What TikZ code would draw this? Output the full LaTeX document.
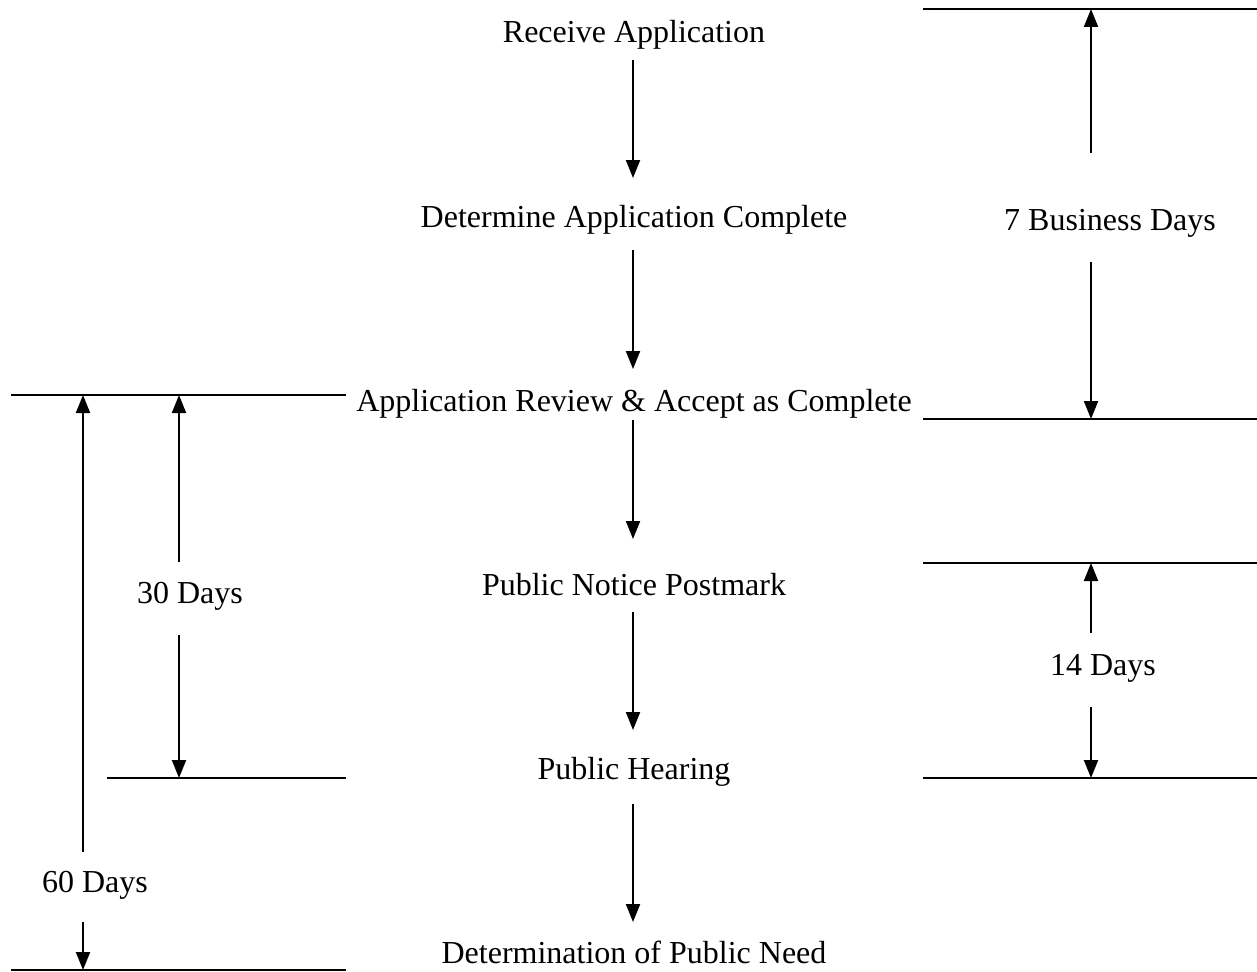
\documentclass[tikz,border=0pt]{standalone}
\usepackage{fontspec}
\setmainfont{Liberation Serif}
\usetikzlibrary{arrows.meta}
\begin{document}
\begin{tikzpicture}[x=1pt,y=-1pt,
  lbl/.style={font=\fontsize{32}{38}\selectfont, inner sep=0pt, anchor=base},
  rule/.style={line width=2pt},
  arr/.style={line width=2pt, -{Triangle[width=14pt,length=18pt]}}]
\useasboundingbox (0,0) rectangle (1257,971);
% center labels
\node[lbl] (n1) at (634,43) {Receive Application};
\node[lbl] (n2) at (634,227) {Determine Application Complete};
\node[lbl] (n3) at (634,411) {Application Review \& Accept as Complete};
\node[lbl] (n4) at (634,595) {Public Notice Postmark};
\node[lbl] (n5) at (634,779) {Public Hearing};
\node[lbl] (n6) at (634,963) {Determination of Public Need};
% center arrows
\coordinate (a1s) at (633,60);  \coordinate (a1e) at (633,178);
\coordinate (a2s) at (633,250); \coordinate (a2e) at (633,369);
\coordinate (a3s) at (633,420); \coordinate (a3e) at (633,539);
\coordinate (a4s) at (633,612); \coordinate (a4e) at (633,730);
\coordinate (a5s) at (633,804); \coordinate (a5e) at (633,922);
\draw[arr] (a1s) -- (a1e);
\draw[arr] (a2s) -- (a2e);
\draw[arr] (a3s) -- (a3e);
\draw[arr] (a4s) -- (a4e);
\draw[arr] (a5s) -- (a5e);
% right: 7 business days
\coordinate (r1a) at (923,9);   \coordinate (r1b) at (1257,9);
\coordinate (r2a) at (923,419); \coordinate (r2b) at (1257,419);
\draw[rule] (r1a) -- (r1b);
\draw[rule] (r2a) -- (r2b);
\node[lbl] (d7) at (1110,230) {7 Business Days};
\coordinate (d7u) at (1091,153); \coordinate (d7t) at (1091,9);
\coordinate (d7d) at (1091,262); \coordinate (d7b) at (1091,419);
\draw[arr] (d7u) -- (d7t);
\draw[arr] (d7d) -- (d7b);
% right: 14 days
\coordinate (r3a) at (923,563); \coordinate (r3b) at (1257,563);
\coordinate (r4a) at (923,778); \coordinate (r4b) at (1257,778);
\draw[rule] (r3a) -- (r3b);
\draw[rule] (r4a) -- (r4b);
\node[lbl] (d14) at (1103,675) {14 Days};
\coordinate (d14u) at (1091,633); \coordinate (d14t) at (1091,563);
\coordinate (d14d) at (1091,707); \coordinate (d14b) at (1091,778);
\draw[arr] (d14u) -- (d14t);
\draw[arr] (d14d) -- (d14b);
% left lines
\coordinate (l1a) at (11,395);  \coordinate (l1b) at (346,395);
\coordinate (l2a) at (107,778); \coordinate (l2b) at (346,778);
\coordinate (l3a) at (11,970);  \coordinate (l3b) at (346,970);
\draw[rule] (l1a) -- (l1b);
\draw[rule] (l2a) -- (l2b);
\draw[rule] (l3a) -- (l3b);
% 30 days
\node[lbl] (d30) at (190,603) {30 Days};
\coordinate (d30u) at (179,562); \coordinate (d30t) at (179,395);
\coordinate (d30d) at (179,635); \coordinate (d30b) at (179,778);
\draw[arr] (d30u) -- (d30t);
\draw[arr] (d30d) -- (d30b);
% 60 days
\node[lbl] (d60) at (95,892) {60 Days};
\coordinate (d60u) at (83,852); \coordinate (d60t) at (83,395);
\coordinate (d60d) at (83,922); \coordinate (d60b) at (83,970);
\draw[arr] (d60u) -- (d60t);
\draw[arr] (d60d) -- (d60b);
\end{tikzpicture}
\end{document}
